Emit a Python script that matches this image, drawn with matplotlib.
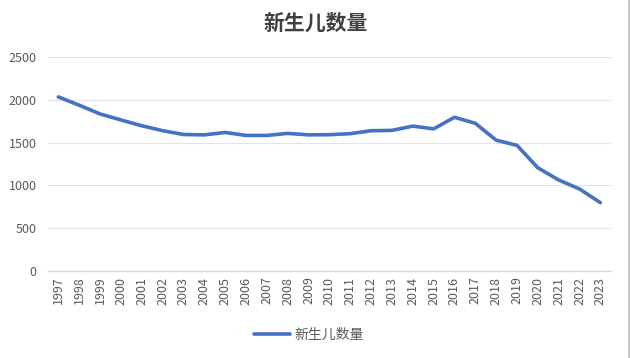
import matplotlib.pyplot as plt

plt.rcParams['font.family'] = ['Noto Sans CJK SC', 'DejaVu Sans']

years = [str(y) for y in range(1997, 2024)]
births = [2033, 1936, 1834, 1764, 1696, 1639, 1594, 1590, 1618, 1583, 1583, 1607,
          1590, 1592, 1604, 1638, 1642, 1692, 1660, 1795, 1725, 1528, 1467, 1205,
          1063, 958, 798]
series_name = '新生儿数量'

grey = '#595959'

fig = plt.figure(figsize=(6.31, 3.58), dpi=100)
ax = fig.add_axes([0.076, 0.243, 0.892, 0.598])

x = range(len(years))
ax.plot(x, births, color='#4472C4', linewidth=2.6, label=series_name,
        solid_joinstyle='round', solid_capstyle='round')

ax.set_xlim(-0.5, len(years) - 0.5)
ax.set_ylim(0, 2500)
ax.set_yticks(range(0, 2501, 500))
ax.set_xticks(list(x))
ax.set_xticklabels(years, rotation=90)
ax.tick_params(axis='both', length=0, colors=grey, labelsize=9)
ax.tick_params(axis='y', pad=8)
ax.tick_params(axis='x', pad=4)

ax.grid(axis='y', color='#E3E3E3', linewidth=0.8)
ax.set_axisbelow(True)
for s in ['top', 'right', 'left']:
    ax.spines[s].set_visible(False)
ax.spines['bottom'].set_color('#D9D9D9')
ax.spines['bottom'].set_linewidth(1.0)

fig.text(0.5, 0.935, series_name, ha='center', va='center', fontsize=15,
         color='#404040', fontweight='bold')

fig.legend(loc='center', bbox_to_anchor=(0.49, 0.065), frameon=False,
           fontsize=10, labelcolor=grey, handlelength=2.6, handletextpad=0.3)

# thin frame edge on the right, as in the screenshot
fig.add_artist(plt.Line2D([0.997, 0.997], [0, 1], color='#BFBFBF', linewidth=1.2))

fig.savefig('out.png', dpi=100, facecolor='white')
